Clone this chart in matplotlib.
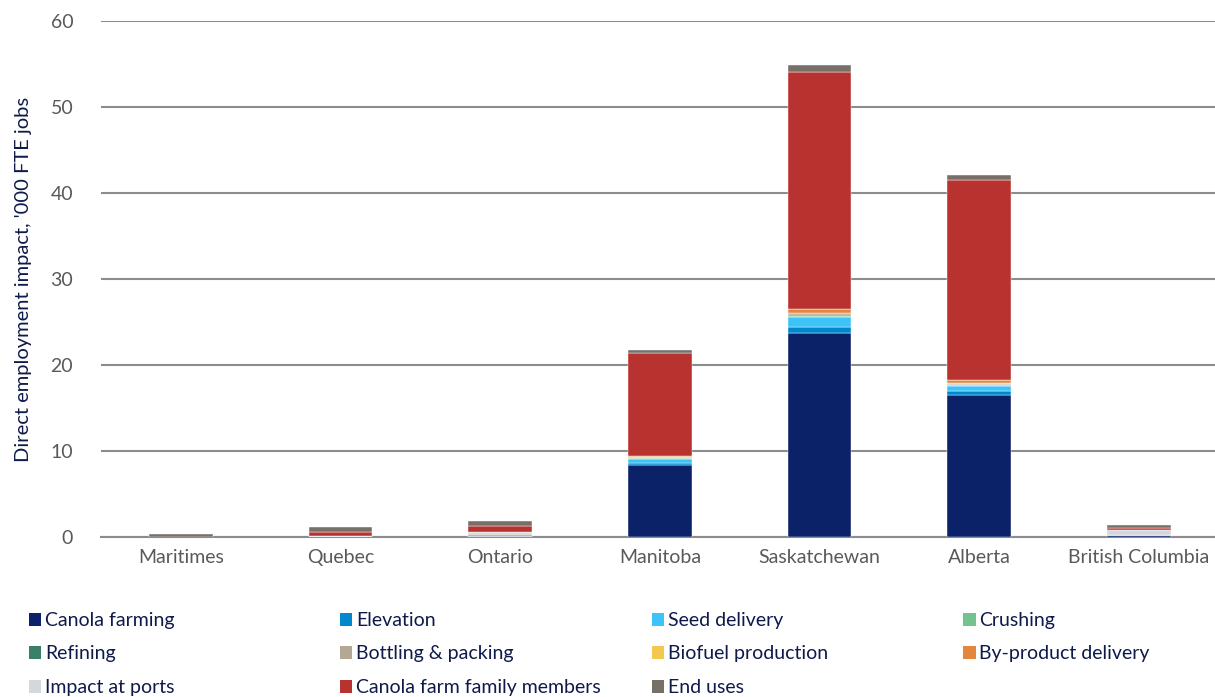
import numpy as np
import matplotlib.pyplot as plt
from matplotlib.patches import Patch

plt.rcParams['font.family'] = ['Lato', 'DejaVu Sans']

provinces = ['Maritimes', 'Quebec', 'Ontario', 'Manitoba', 'Saskatchewan', 'Alberta', 'British Columbia']

segments = ['Canola farming', 'Elevation', 'Seed delivery', 'Crushing', 'Refining',
            'Bottling & packing', 'Biofuel production', 'By-product delivery',
            'Impact at ports', 'Canola farm family members', 'End uses']

colors = ['#0b2269', '#0088cf', '#3cc3f8', '#74c28d', '#3a8068', '#b4a894',
          '#f3c851', '#e3873e', '#d4d7db', '#b83230', '#767069']

# '000 FTE jobs per segment, one value per province
canola_farming = [0.0, 0.1, 0.15, 8.4, 23.7, 16.5, 0.25]
elevation = [0.0, 0.0, 0.0, 0.25, 0.7, 0.5, 0.0]
seed_delivery = [0.0, 0.0, 0.0, 0.45, 1.2, 0.55, 0.0]
crushing = [0.0, 0.0, 0.0, 0.05, 0.15, 0.1, 0.0]
refining = [0.0, 0.0, 0.0, 0.0, 0.1, 0.05, 0.0]
bottling = [0.0, 0.0, 0.2, 0.2, 0.15, 0.1, 0.0]
biofuel = [0.0, 0.0, 0.0, 0.0, 0.05, 0.05, 0.0]
byproduct = [0.0, 0.0, 0.0, 0.05, 0.45, 0.35, 0.0]
ports = [0.0, 0.0, 0.2, 0.0, 0.0, 0.0, 0.6]
family = [0.0, 0.45, 0.7, 12.0, 27.6, 23.3, 0.25]
end_uses = [0.3, 0.6, 0.6, 0.35, 0.8, 0.6, 0.3]

data = [canola_farming, elevation, seed_delivery, crushing, refining, bottling,
        biofuel, byproduct, ports, family, end_uses]

fig = plt.figure(figsize=(12.15, 6.97), dpi=100)
ax = fig.add_axes([0.0831, 0.2296, 0.920, 0.7403])

x = np.arange(len(provinces))
bottom = np.zeros(len(provinces))
for vals, col in zip(data, colors):
    ax.bar(x, vals, 0.4, bottom=bottom, color=col, edgecolor='white', linewidth=0.3, zorder=3)
    bottom += np.array(vals)

ax.set_ylim(0, 60)
ax.set_xlim(-0.5, 6.5)
ax.set_yticks(range(0, 61, 10))
ax.yaxis.grid(True, color='#8c8c8c', linewidth=1.5, zorder=0)
ax.set_axisbelow(True)
for s in ['top', 'right', 'left']:
    ax.spines[s].set_visible(False)
ax.spines['bottom'].set_color('#8c8c8c')
ax.spines['bottom'].set_linewidth(1.5)
ax.tick_params(length=0, labelsize=14, labelcolor='#595959', pad=9)
ax.set_xticks(x)
ax.set_xticklabels(provinces)
ax.tick_params(axis='y', pad=20)
ax.set_ylabel("Direct employment impact, '000 FTE jobs", fontsize=14.5, color='#0d1a4a', labelpad=13)

# legend laid out row by row, four columns
col_x = [0.0235, 0.2795, 0.5365, 0.7925]
for c in range(4):
    idx = list(range(c, len(segments), 4))
    handles = [Patch(facecolor=colors[i], edgecolor='none') for i in idx]
    labels = [segments[i] for i in idx]
    fig.legend(handles, labels, loc='upper left', bbox_to_anchor=(col_x[c], 0.122),
               frameon=False, fontsize=14, handlelength=0.65, handleheight=0.65,
               handletextpad=0.2, labelspacing=0.85, borderaxespad=0, borderpad=0,
               labelcolor='#0d1a4a')

fig.savefig('out.png', dpi=100)
